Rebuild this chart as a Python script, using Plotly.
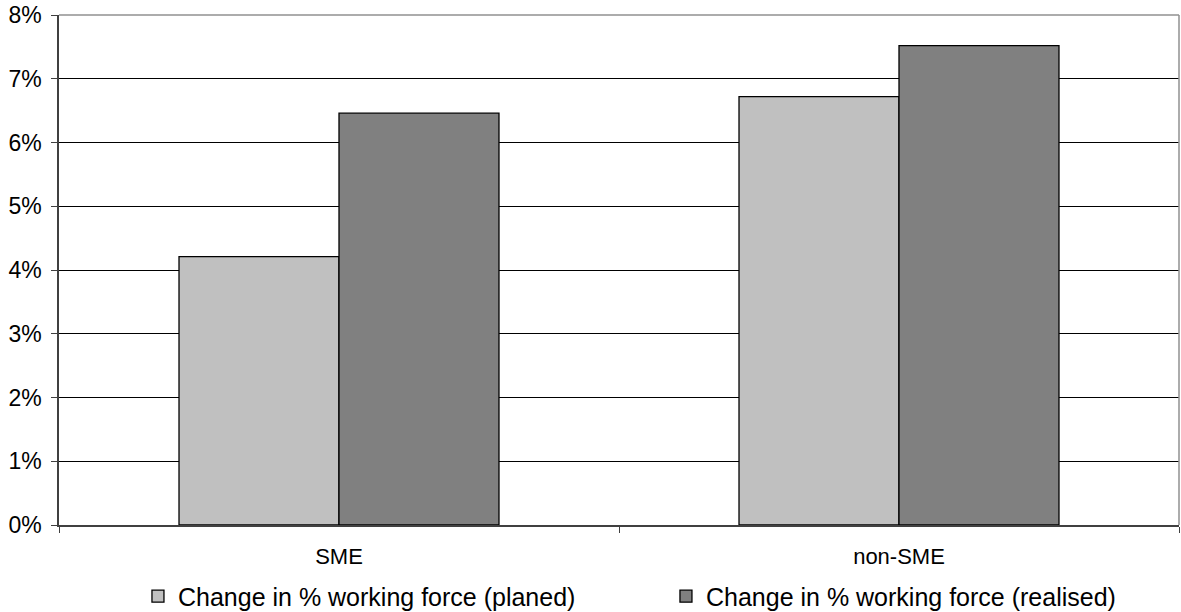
import plotly.graph_objects as go

# Workforce change by company size
categories = ["SME", "non-SME"]
planned = [4.21, 6.72]
realised = [6.46, 7.52]
y_ticks = [0, 1, 2, 3, 4, 5, 6, 7, 8]
y_tick_labels = ["0%", "1%", "2%", "3%", "4%", "5%", "6%", "7%", "8%"]

FONT = "Liberation Sans, Arial, sans-serif"

fig = go.Figure()
fig.add_trace(go.Bar(
    name="Change in % working force (planed)",
    x=categories, y=planned,
    marker=dict(color="#C0C0C0", line=dict(color="#000000", width=1.3)),
))
fig.add_trace(go.Bar(
    name="Change in % working force (realised)",
    x=categories, y=realised,
    marker=dict(color="#808080", line=dict(color="#000000", width=1.3)),
))

fig.update_layout(
    width=1181, height=612,
    margin=dict(l=59, r=2, t=15, b=87, autoexpand=False),
    paper_bgcolor="white", plot_bgcolor="white",
    barmode="group", bargap=0.4286, bargroupgap=0,
    font=dict(family=FONT, size=22, color="#000000"),
    showlegend=True,
    legend=dict(
        orientation="h", x=0.0705, xanchor="left", y=-0.095, yanchor="top",
        font=dict(family=FONT, size=25, color="#000000"),
        entrywidth=483, entrywidthmode="pixels",
        itemwidth=30, traceorder="normal",
    ),
    xaxis=dict(
        showline=True, linecolor="#404040", linewidth=1.5,
        ticks="outside", ticklen=6, tickcolor="#404040",
        tickson="boundaries", showgrid=False,
        tickfont=dict(family=FONT, size=22),
        ticklabelstandoff=11,
        mirror=False,
    ),
    yaxis=dict(
        range=[0, 8], tickvals=y_ticks, ticktext=y_tick_labels,
        showline=True, linecolor="#404040", linewidth=1.5,
        ticks="outside", ticklen=6, tickcolor="#404040",
        showgrid=True, gridcolor="#000000", gridwidth=1,
        tickfont=dict(family=FONT, size=23),
        ticklabelstandoff=5,
        zeroline=False,
    ),
)

# Grey frame along the top and right of the plotting area
fig.add_shape(type="line", xref="paper", yref="paper", x0=0, x1=1, y0=1, y1=1,
              line=dict(color="#909090", width=1.5))
fig.add_shape(type="line", xref="paper", yref="paper", x0=1, x1=1, y0=0, y1=1,
              line=dict(color="#909090", width=1.5))

fig.write_html("out.html")
